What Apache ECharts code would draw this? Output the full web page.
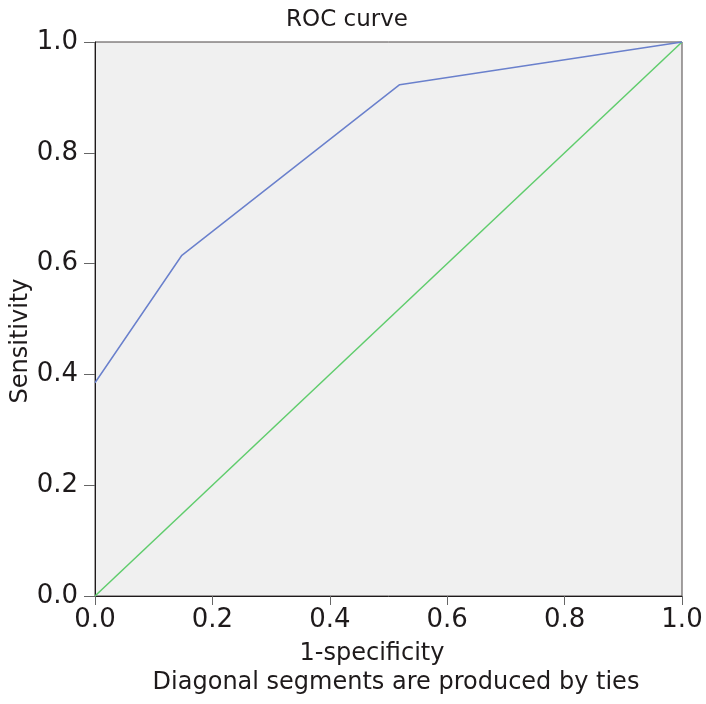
<!DOCTYPE html>
<html><head><meta charset="utf-8">
<script src="https://cdn.jsdelivr.net/npm/echarts@6/dist/echarts.min.js"></script>
<style>html,body{margin:0;padding:0;background:#fff}#c{width:706px;height:704px}</style>
</head><body><div id="c"></div>
<script>
const rocX = [0, 0.148, 0.519, 1];
const rocY = [0.385, 0.615, 0.923, 1];
const diagX = [0, 1];
const diagY = [0, 1];
const titleText = 'ROC curve';
const xName = '1-specificity';
const yName = 'Sensitivity';
const footText = 'Diagonal segments are produced by ties';
const FONT = '"DejaVu Sans", Verdana, sans-serif';
const txt = '#1e1a1b';
const chart = echarts.init(document.getElementById('c'));
chart.setOption({
  animation: false,
  backgroundColor: '#fff',
  graphic: [
    {type: 'text', x: 347, y: 20, style: {text: titleText, font: '23px ' + FONT, fill: txt, align: 'center', verticalAlign: 'middle'}},
    {type: 'text', x: 372, y: 654, style: {text: xName, font: '24px ' + FONT, fill: txt, align: 'center', verticalAlign: 'middle'}},
    {type: 'text', x: 396, y: 683, style: {text: footText, font: '24px ' + FONT, fill: txt, align: 'center', verticalAlign: 'middle'}},
    {type: 'text', x: 21, y: 341, rotation: Math.PI / 2, style: {text: yName, font: '24px ' + FONT, fill: txt, align: 'center', verticalAlign: 'middle'}}
  ],
  grid: {left: 95, right: 24, top: 42, bottom: 108, outerBoundsMode: 'none', containLabel: false, show: true, backgroundColor: '#f0f0f0', borderColor: '#4a4444', borderWidth: 1},
  xAxis: {
    type: 'value', min: 0, max: 1, interval: 0.2,
    axisLine: {lineStyle: {color: txt, width: 1}},
    axisTick: {show: true, length: 9, lineStyle: {color: '#666'}},
    axisLabel: {fontFamily: FONT, fontSize: 26, color: txt, margin: 11, formatter: v => v.toFixed(1)},
    splitLine: {show: false}
  },
  yAxis: {
    type: 'value', min: 0, max: 1, interval: 0.2,
    axisLine: {lineStyle: {color: txt, width: 1}},
    axisTick: {show: true, length: 11, lineStyle: {color: '#666'}},
    axisLabel: {fontFamily: FONT, fontSize: 26, color: txt, margin: 17, formatter: v => v.toFixed(1)},
    splitLine: {show: false}
  },
  series: [
    {type: 'line', data: diagX.map((x, i) => [x, diagY[i]]), symbol: 'none', lineStyle: {color: '#5fcc6c', width: 1.5}, z: 1},
    {type: 'line', data: rocX.map((x, i) => [x, rocY[i]]), symbol: 'none', lineStyle: {color: '#6a80cc', width: 1.5}, z: 2}
  ]
});
</script></body></html>
